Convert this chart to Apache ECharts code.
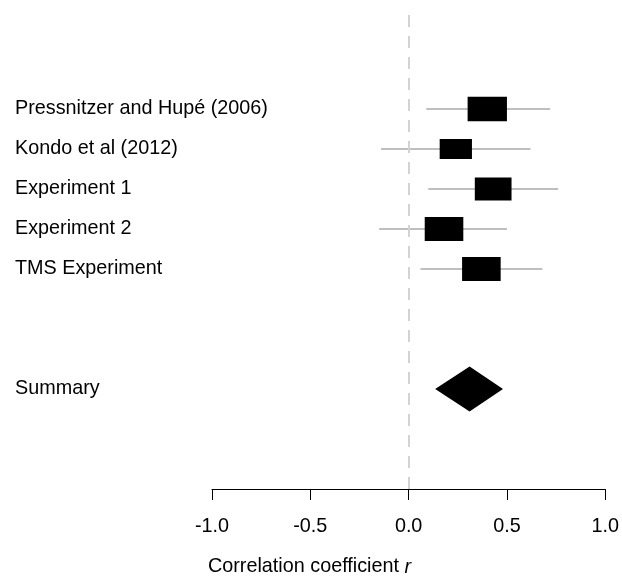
<!DOCTYPE html>
<html>
<head>
<meta charset="utf-8">
<script src="https://cdn.jsdelivr.net/npm/echarts@6/dist/echarts.min.js"></script>
<style>
html,body{margin:0;padding:0;background:#fff;}
#chart{width:622px;height:587px;}
</style>
</head>
<body>
<div id="chart"></div>
<script>
// ---- data ----
const studies = ['Pressnitzer and Hupé (2006)', 'Kondo et al (2012)', 'Experiment 1', 'Experiment 2', 'TMS Experiment'];
const estimates = [0.40, 0.24, 0.43, 0.18, 0.37];
const lowerCI = [0.09, -0.14, 0.10, -0.15, 0.06];
const upperCI = [0.72, 0.62, 0.76, 0.50, 0.68];
const weights = [21.2, 17.4, 19.8, 20.8, 20.8];
const summaryLabel = 'Summary';
const summaryEstimate = 0.31;
const summaryLower = 0.135;
const summaryUpper = 0.48;
const xTicks = [-1.0, -0.5, 0.0, 0.5, 1.0];
const axisTitle = 'Correlation coefficient ';
const axisTitleVar = 'r';

// ---- build ----
const FONT = "'Liberation Sans', Arial, sans-serif";
const rowY = studies.map((s, i) => studies.length + 3 - i); // 8..4
const summaryY = 1;
const labelByY = {};
studies.forEach((s, i) => { labelByY[rowY[i]] = s; });
labelByY[summaryY] = summaryLabel;
const maxW = Math.max.apply(null, weights);

const studyData = studies.map((s, i) => [estimates[i], rowY[i], lowerCI[i], upperCI[i], weights[i]]);

const chart = echarts.init(document.getElementById('chart'), null, {renderer: 'canvas'});
chart.setOption({
  animation: false,
  backgroundColor: '#fff',
  textStyle: {fontFamily: FONT},
  grid: {left: 212, right: 15, top: 9, bottom: 98, containLabel: false},
  title: {
    left: 208, top: 557, padding: 0,
    text: '{a|' + axisTitle + '}{b|' + axisTitleVar + '}',
    textStyle: {
      fontWeight: 'normal',
      rich: {
        a: {fontFamily: FONT, fontSize: 19.8, color: '#000', fontWeight: 'normal'},
        b: {fontFamily: FONT, fontSize: 19.8, color: '#000', fontWeight: 'normal', fontStyle: 'italic'}
      }
    }
  },
  xAxis: {
    type: 'value', min: xTicks[0], max: xTicks[xTicks.length - 1], interval: 0.5,
    splitLine: {show: false},
    axisLine: {show: true, onZero: false, lineStyle: {color: '#000', width: 1}},
    axisTick: {show: true, inside: false, length: 11, lineStyle: {color: '#000', width: 1}},
    axisLabel: {margin: 28, fontSize: 19.8, color: '#000', fontFamily: FONT,
      formatter: v => v.toFixed(1)}
  },
  yAxis: {
    type: 'value', min: -1.5, max: 10.5, interval: 0.5,
    splitLine: {show: false}, axisLine: {show: false}, axisTick: {show: false},
    axisLabel: {
      margin: 197, align: 'left', fontSize: 19.8, color: '#000', fontFamily: FONT,
      formatter: v => labelByY[v] || ''
    }
  },
  series: [
    {
      type: 'custom',
      name: 'studies',
      silent: true,
      clip: false,
      data: studyData,
      encode: {x: [0, 2, 3], y: 1},
      renderItem: function (params, api) {
        const y = api.value(1);
        const c = api.coord([api.value(0), y]);
        const lo = api.coord([api.value(2), y]);
        const hi = api.coord([api.value(3), y]);
        const rel = api.value(4) / maxW;
        const sz = api.size([0.2 * rel, 0.61 * rel]);
        return {
          type: 'group',
          children: [
            {type: 'line', shape: {x1: lo[0], y1: lo[1], x2: hi[0], y2: hi[1]},
             style: {stroke: '#bfbfbf', lineWidth: 2}},
            {type: 'rect', shape: {x: c[0] - sz[0] / 2, y: c[1] - sz[1] / 2, width: sz[0], height: sz[1]},
             style: {fill: '#000'}}
          ]
        };
      },
      markLine: {
        silent: true, symbol: 'none', label: {show: false},
        lineStyle: {color: '#d3d3d3', width: 2, type: [12, 9]},
        data: [{xAxis: 0}]
      },
      z: 3
    },
    {
      type: 'custom',
      name: 'summary',
      silent: true,
      data: [[summaryEstimate, summaryY, summaryLower, summaryUpper]],
      encode: {x: [0, 2, 3], y: 1},
      renderItem: function (params, api) {
        const y = api.value(1);
        const l = api.coord([api.value(2), y]);
        const r = api.coord([api.value(3), y]);
        const t = api.coord([api.value(0), y + 0.56]);
        const b = api.coord([api.value(0), y - 0.56]);
        return {
          type: 'polygon',
          shape: {points: [l, t, r, b]},
          style: {fill: '#000'}
        };
      },
      z: 4
    }
  ]
});
</script>
</body>
</html>
